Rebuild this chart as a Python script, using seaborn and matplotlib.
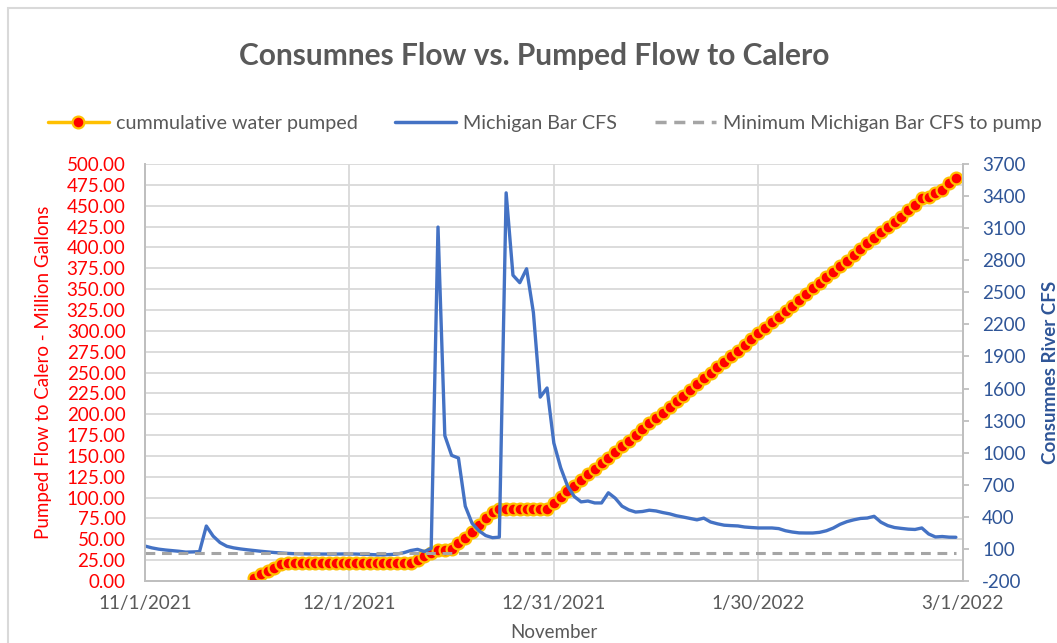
import numpy as np
import pandas as pd
import matplotlib
matplotlib.use("Agg")
import matplotlib.pyplot as plt
import matplotlib.lines as mlines
import matplotlib.patches as mpatches
import seaborn as sns

# ---------------- data ----------------
flow_start = "2021-11-01"
michigan_bar_cfs = [
    127, 110, 98, 90, 84, 78, 70, 72, 75, 314,
    220, 160, 125, 110, 100, 92, 85, 78, 72, 66,
    62, 58, 55, 54, 53, 53, 52, 52, 52, 53,
    53, 52, 50, 48, 45, 45, 48, 52, 65, 85,
    96, 75, 105, 3110, 1160, 975, 950, 500, 340, 270,
    225, 205, 210, 3430, 2660, 2590, 2720, 2310, 1520, 1605,
    1090, 860, 690, 590, 540, 548, 530, 530, 625, 575,
    500, 465, 445, 450, 462, 455, 440, 428, 410, 398,
    385, 372, 388, 352, 335, 322, 318, 315, 305, 300,
    296, 296, 296, 290, 270, 258, 250, 249, 249, 255,
    270, 295, 330, 355, 372, 385, 389, 405, 350, 318,
    300, 292, 285, 282, 296, 240, 212, 216, 210, 209,
]
min_cfs_value = 60

pump_start = "2021-11-17"
cumulative_pumped = [
    3, 8, 12, 16, 20, 22, 22, 22, 22, 22,
    22, 22, 22, 22, 22, 22, 22, 22, 22, 22,
    22, 22, 22, 22, 25, 30, 34, 37, 37, 38,
    45, 51, 59, 67, 76, 83, 86, 86, 86, 86,
    86, 86, 86, 86, 94, 101, 108, 114, 121, 128,
    134, 141, 148, 155, 162, 168, 175, 182, 189, 195,
    202, 209, 216, 222, 229, 236, 243, 249, 256, 263,
    270, 276, 283, 290, 297, 303, 310, 317, 324, 330,
    337, 344, 351, 357, 364, 371, 378, 384, 391, 398,
    405, 411, 418, 425, 431, 437, 445, 451, 459, 461,
    465, 469, 477, 483,
]

tick_dates = ["2021-11-01", "2021-12-01", "2021-12-31", "2022-01-30", "2022-03-01"]
tick_labels = ["11/1/2021", "12/1/2021", "12/31/2021", "1/30/2022", "3/1/2022"]

title = "Consumnes Flow vs. Pumped Flow to Calero"
legend_labels = ["cummulative water pumped", "Michigan Bar CFS",
                 "Minimum Michigan Bar CFS to pump"]

# ---------------- frames ----------------
flow_df = pd.DataFrame({
    "date": pd.date_range(flow_start, periods=len(michigan_bar_cfs), freq="D"),
    "cfs": michigan_bar_cfs,
})
flow_df["min_cfs"] = min_cfs_value
pump_df = pd.DataFrame({
    "date": pd.date_range(pump_start, periods=len(cumulative_pumped), freq="D"),
    "pumped": cumulative_pumped,
})

# ---------------- style ----------------
sns.set_style("white")
plt.rcParams["font.family"] = ["Lato", "DejaVu Sans"]

GRAY_TXT = "#595959"
GRID = "#D9D9D9"
AXIS = "#BFBFBF"
BLUE = "#4472C4"
GOLD = "#FFC000"
NAVY = "#2F5597"

fig = plt.figure(figsize=(10.57, 6.43), dpi=100)
ax = fig.add_axes([0.13718, 0.09642, 0.77360, 0.64852])

sns.lineplot(data=pump_df, x="date", y="pumped", ax=ax, color=GOLD,
             linewidth=2.5, marker="o", markersize=8.5,
             markerfacecolor="#FF0000", markeredgecolor=GOLD,
             markeredgewidth=1.6, legend=False)

ax2 = ax.twinx()
sns.lineplot(data=flow_df, x="date", y="cfs", ax=ax2, color=BLUE,
             linewidth=2.4, legend=False)
sns.lineplot(data=flow_df, x="date", y="min_cfs", ax=ax2, color="#A5A5A5",
             linewidth=2.2, linestyle=(0, (3.2, 2.2)), legend=False)

# x axis
xt = pd.to_datetime(tick_dates)
ax.set_xlim(xt[0], xt[-1])
ax.set_xticks(xt)
ax.set_xticklabels(tick_labels)
ax.set_xlabel("")
ax.tick_params(axis="x", length=0, pad=10, labelsize=13.5, labelcolor=GRAY_TXT)

# left axis
ax.set_ylim(0, 500)
yt = np.arange(0, 501, 25)
ax.set_yticks(yt)
ax.set_yticklabels([f"{v:.2f}" for v in yt])
ax.set_ylabel("")
ax.tick_params(axis="y", length=0, pad=14, labelsize=13.5, labelcolor="#FF0000")
ax.grid(True, color=GRID, linewidth=1.3)
ax.set_axisbelow(True)

# right axis
ax2.set_ylim(-200, 3700)
yt2 = np.arange(-200, 3701, 300)
ax2.set_yticks(yt2)
ax2.set_yticklabels([str(v) for v in yt2])
ax2.set_ylabel("")
ax2.tick_params(axis="y", length=4, width=1.3, color=AXIS, pad=10,
                labelsize=13.5, labelcolor=NAVY)
ax2.grid(False)

for a in (ax, ax2):
    a.spines["top"].set_visible(False)
    for side in ("left", "right", "bottom"):
        a.spines[side].set_color(AXIS)
        a.spines[side].set_linewidth(1.3)

# texts
fig.text(0.5052, 0.913, title, ha="center", va="center", fontsize=21.5,
         fontweight="bold", color=GRAY_TXT)
fig.text(0.0407, 0.4207, "Pumped Flow to Calero - Million Gallons",
         rotation=90, ha="center", va="center", fontsize=13.5, color="#FF0000")
fig.text(0.9935, 0.4207, "Consumnes River CFS", rotation=90, ha="center",
         va="center", fontsize=13.5, fontweight="bold", color=NAVY)
fig.text(0.524, 0.0156, "November", ha="center", va="center", fontsize=13.5,
         color=GRAY_TXT)

# legend
h1 = mlines.Line2D([], [], color=GOLD, linewidth=2.5, marker="o",
                   markersize=8.5, markerfacecolor="#FF0000",
                   markeredgecolor=GOLD, markeredgewidth=1.6)
h2 = mlines.Line2D([], [], color=BLUE, linewidth=2.5)
h3 = mlines.Line2D([], [], color="#A5A5A5", linewidth=2.5,
                   linestyle=(0, (3.2, 2.2)))
fig.legend([h1, h2, h3], legend_labels, loc="center",
           bbox_to_anchor=(0.5151, 0.8087), ncol=3, frameon=False,
           fontsize=14.2, labelcolor=GRAY_TXT, handlelength=3.1,
           handletextpad=0.35, columnspacing=1.9)

# outer chart border (cropped at right/bottom)
fig.patches.append(mpatches.Rectangle((8 / 1057, -0.2), 1.3, 1.2 - 8 / 643,
                                      transform=fig.transFigure, fill=False,
                                      edgecolor=GRID, linewidth=1.5))

fig.savefig("out.png", dpi=100)
